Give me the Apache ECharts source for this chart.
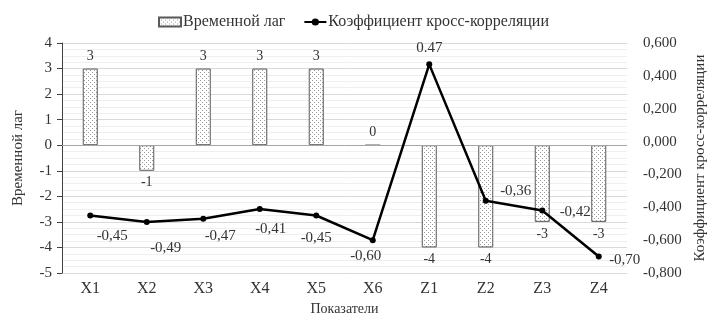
<!DOCTYPE html>
<html>
<head>
<meta charset="utf-8">
<script src="https://cdn.jsdelivr.net/npm/echarts@6/dist/echarts.min.js"></script>
<style>
  html, body { margin: 0; padding: 0; background: #fff; }
  #chart { width: 707px; height: 315px; }
</style>
</head>
<body>
<div id="chart"></div>
<script>
// данные с графика
var categories = ['X1', 'X2', 'X3', 'X4', 'X5', 'X6', 'Z1', 'Z2', 'Z3', 'Z4'];
var lagValues = [3, -1, 3, 3, 3, 0, -4, -4, -3, -3];
var corrValues = [-0.45, -0.49, -0.47, -0.41, -0.45, -0.60, 0.47, -0.36, -0.42, -0.70];
var corrLabels = ['-0,45', '-0,49', '-0,47', '-0,41', '-0,45', '-0,60', '0.47', '-0,36', '-0,42', '-0,70'];

// смещения подписей точек линии (как в исходной картинке)
var labelShift = [[22, 21], [19, 26], [17, 17], [11, 20], [0, 23], [-7, 16], [0, -16], [30, -10], [33, 1], [26, 3]];

var FONT = '"Liberation Serif", "DejaVu Serif", serif';
var TXT = '#333';

// точечная заливка столбцов
function dotPattern() {
  var c = document.createElement('canvas');
  c.width = 4;
  c.height = 4;
  var ctx = c.getContext('2d');
  ctx.fillStyle = '#fff';
  ctx.fillRect(0, 0, 4, 4);
  ctx.fillStyle = '#9a9a9a';
  ctx.fillRect(0, 0, 1, 1);
  ctx.fillRect(2, 2, 1, 1);
  return c;
}
var pattern = { image: dotPattern(), repeat: 'repeat' };

var chart = echarts.init(document.getElementById('chart'), null, { renderer: 'canvas' });

var option = {
  animation: false,
  textStyle: { fontFamily: FONT, color: TXT },
  legend: {
    top: 9,
    left: 'center',
    itemGap: 18,
    itemWidth: 22,
    itemHeight: 9,
    textStyle: { fontFamily: FONT, fontSize: 16, color: TXT, padding: [0, 0, 0, -3] },
    data: [
      { name: 'Временной лаг', icon: 'rect' },
      { name: 'Коэффициент кросс-корреляции' }
    ]
  },
  grid: { left: 62, right: 80, top: 43, bottom: 42, outerBoundsMode: 'none', containLabel: false },
  xAxis: {
    type: 'category',
    data: categories,
    name: 'Показатели',
    nameLocation: 'middle',
    nameGap: 21,
    nameTextStyle: { fontFamily: FONT, fontSize: 14, color: TXT },
    axisLine: { show: false },
    axisTick: { show: false },
    axisLabel: { fontFamily: FONT, fontSize: 16, color: TXT, margin: 8 }
  },
  yAxis: [
    {
      type: 'value',
      min: -5,
      max: 4,
      interval: 1,
      name: 'Временной лаг',
      nameLocation: 'middle',
      nameRotate: 90,
      nameGap: 36,
      nameTextStyle: { fontFamily: FONT, fontSize: 15, color: TXT },
      axisLine: { show: true, lineStyle: { color: '#404040', width: 1 } },
      axisTick: { show: true, length: 5, lineStyle: { color: '#404040' } },
      axisLabel: { fontFamily: FONT, fontSize: 15, color: TXT, margin: 10 },
      splitLine: { show: true, lineStyle: { color: '#d9d9d9' } },
      minorTick: { show: false, splitNumber: 4 },
      minorSplitLine: { show: true, lineStyle: { color: '#efefef' } }
    },
    {
      type: 'value',
      min: -0.8,
      max: 0.6,
      interval: 0.2,
      position: 'right',
      name: 'Коэффициент кросс-корреляции',
      nameLocation: 'middle',
      nameRotate: 90,
      nameGap: 66,
      nameTextStyle: { fontFamily: FONT, fontSize: 15, color: TXT },
      axisLine: { show: false },
      axisTick: { show: false },
      axisLabel: {
        fontFamily: FONT, fontSize: 15, color: TXT, margin: 16,
        formatter: function (v) { return v.toFixed(3).replace('.', ','); }
      },
      splitLine: { show: false }
    }
  ],
  series: [
    {
      name: 'Временной лаг',
      type: 'bar',
      yAxisIndex: 0,
      barWidth: 15,
      data: lagValues.map(function (v) {
        return {
          value: v,
          label: { position: v < 0 ? 'bottom' : 'top' }
        };
      }),
      itemStyle: { color: pattern, borderColor: '#595959', borderWidth: 1 },
      label: {
        show: true,
        distance: 5,
        fontFamily: FONT,
        fontSize: 14,
        color: TXT
      },
      markLine: {
        silent: true,
        symbol: 'none',
        label: { show: false },
        lineStyle: { color: '#a6a6a6', width: 1, type: 'solid' },
        data: [{ yAxis: 0 }]
      },
      z: 2
    },
    {
      name: 'Коэффициент кросс-корреляции',
      type: 'line',
      yAxisIndex: 1,
      data: corrValues.map(function (v, i) {
        return {
          value: v,
          label: { offset: labelShift[i] }
        };
      }),
      symbol: 'circle',
      symbolSize: 6,
      lineStyle: { color: '#000', width: 2.5 },
      itemStyle: { color: '#000' },
      label: {
        show: true,
        position: 'inside',
        fontFamily: FONT,
        fontSize: 15,
        color: TXT,
        formatter: function (p) { return corrLabels[p.dataIndex]; }
      },
      z: 5
    }
  ]
};

chart.setOption(option);
</script>
</body>
</html>
